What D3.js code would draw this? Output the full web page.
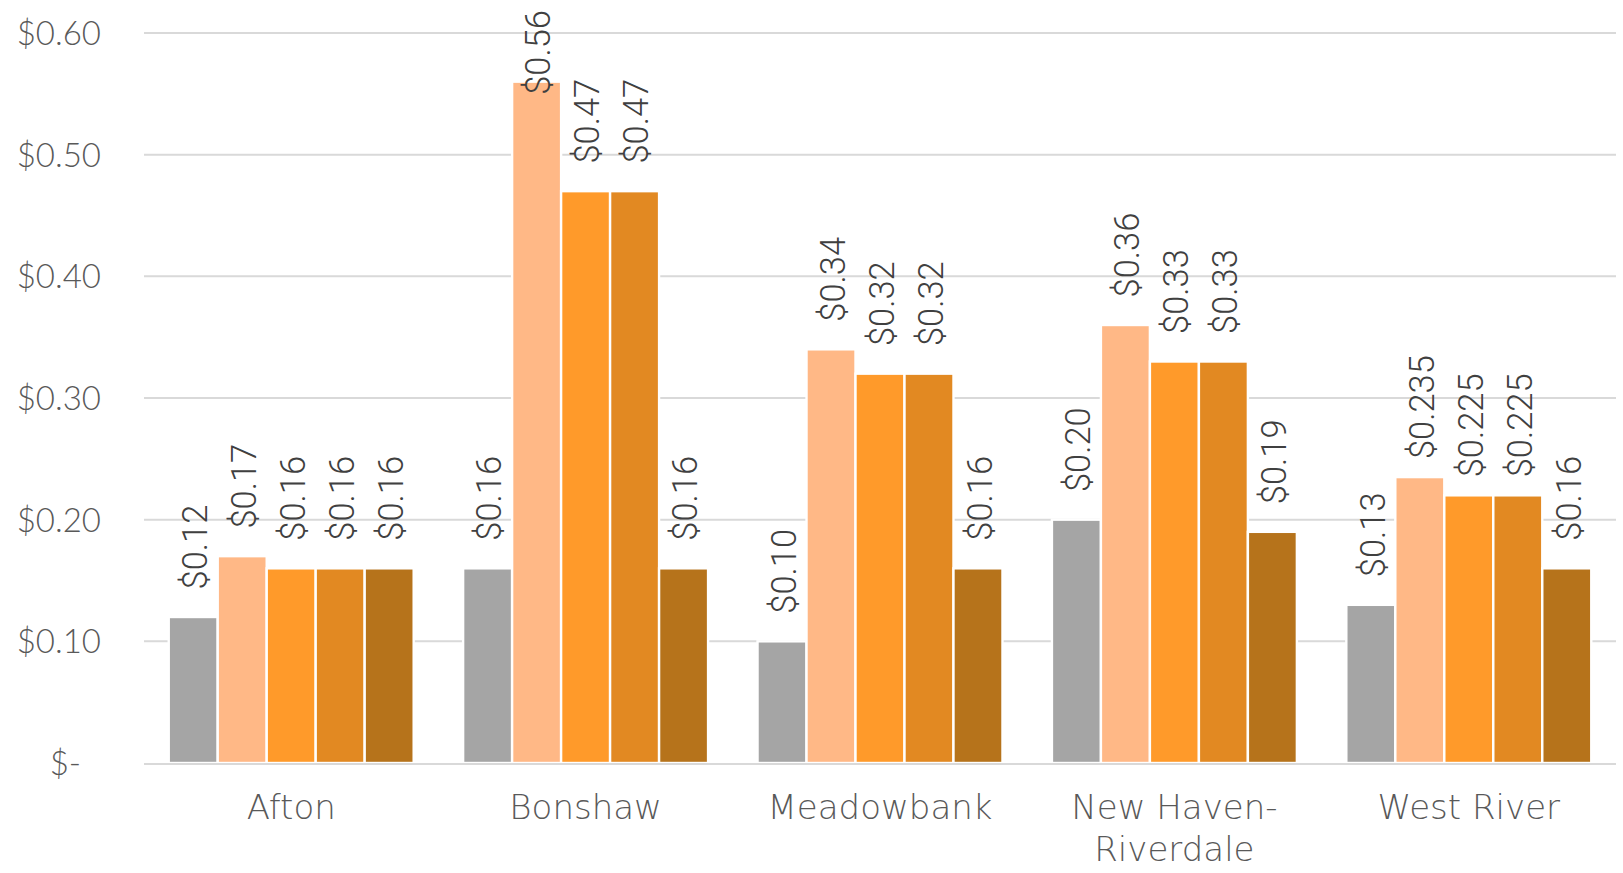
<!DOCTYPE html>
<html>
<head>
<meta charset="utf-8">
<script src="https://cdn.jsdelivr.net/npm/d3@7"></script>
<style>
    body { margin: 0; background: #fff; }
    svg { display: block; }
</style>
</head>
<body>
<div id="chart"></div>
<script>
'use strict';

const categories = ['Afton', 'Bonshaw', 'Meadowbank', 'New Haven-Riverdale', 'West River'];
const seriesNames = ['s1', 's2', 's3', 's4', 's5'];
const s1 = [0.12, 0.16, 0.10, 0.20, 0.13];
const s2 = [0.17, 0.56, 0.34, 0.36, 0.235];
const s3 = [0.16, 0.47, 0.32, 0.33, 0.22];
const s4 = [0.16, 0.47, 0.32, 0.33, 0.22];
const s5 = [0.16, 0.16, 0.16, 0.19, 0.16];
const seriesColors = ['#a5a5a5', '#ffb886', '#ff9a2a', '#e28922', '#b6731b'];
// labels typed by hand in the source chart
const labelOverrides = [
    {series: 's3', category: 'West River', text: '$0.225'},
    {series: 's4', category: 'West River', text: '$0.225'}
];
const yTicks = [0, 0.1, 0.2, 0.3, 0.4, 0.5, 0.6];

const W = 1623, H = 873;
const plot = {left: 144, right: 1616, top: 33, bottom: 763};

const allSeries = [s1, s2, s3, s4, s5];
const rows = [];
categories.forEach((c, i) => {
    seriesNames.forEach((s, j) => rows.push({category: c, series: s, value: allSeries[j][i]}));
});

const x = d3.scaleBand().domain(categories).range([plot.left, plot.right])
    .paddingInner(0.168).paddingOuter(0.084);
const xs = d3.scaleBand().domain(seriesNames).range([0, x.bandwidth()]);
const y = d3.scaleLinear().domain([0, 0.6]).range([plot.bottom, plot.top]);
const color = d3.scaleOrdinal().domain(seriesNames).range(seriesColors);

const fmtValue = v => Math.round(v * 1000) % 10 === 0 ? d3.format('$.2f')(v) : d3.format('$.3f')(v);
const fmtTick = v => v === 0 ? '$-' : d3.format('$.2f')(v);

const svg = d3.select('#chart').append('svg').attr('width', W).attr('height', H);

// gridlines
svg.append('g').selectAll('line').data(yTicks.filter(t => t > 0)).join('line')
    .attr('x1', plot.left).attr('x2', plot.right)
    .attr('y1', d => y(d)).attr('y2', d => y(d))
    .attr('stroke', '#d9d9d9').attr('stroke-width', 2);

// y labels
svg.append('g').selectAll('text').data(yTicks).join('text')
    .attr('x', d => d === 0 ? 81 : 101)
    .attr('y', d => y(d))
    .attr('dy', '0.36em')
    .attr('text-anchor', 'end')
    .attr('font-family', 'Lato, "DejaVu Sans", sans-serif')
    .attr('font-weight', 300)
    .attr('font-size', 33)
    .attr('fill', '#595959')
    .text(fmtTick);

// bars
svg.append('g').selectAll('rect').data(rows).join('rect')
    .attr('x', d => x(d.category) + xs(d.series))
    .attr('y', d => y(d.value))
    .attr('width', xs.bandwidth())
    .attr('height', d => y(0) - y(d.value))
    .attr('fill', d => color(d.series))
    .attr('stroke', '#fff')
    .attr('stroke-width', 2.4);

// baseline
svg.append('line')
    .attr('x1', plot.left).attr('x2', plot.right)
    .attr('y1', y(0) + 1).attr('y2', y(0) + 1)
    .attr('stroke', '#d9d9d9').attr('stroke-width', 2);

// value labels, rotated
const labelText = d => {
    const o = labelOverrides.find(l => l.series === d.series && l.category === d.category);
    return o ? o.text : fmtValue(d.value);
};
const labels = svg.append('g').selectAll('text').data(rows).join('text')
    .attr('text-anchor', 'middle')
    .attr('dy', '0.4em')
    .attr('font-family', 'Roboto, "Liberation Sans", sans-serif')
    .attr('font-weight', 300)
    .attr('font-size', 34.5)
    .attr('fill', '#404040')
    .text(labelText);
labels.each(function (d) {
    const len = this.getComputedTextLength();
    const cx = x(d.category) + xs(d.series) + xs.bandwidth() / 2;
    const cy = Math.max(y(d.value) - 70, 10 + len / 2);
    d3.select(this).attr('transform', `translate(${cx},${cy}) rotate(-90)`);
});

// category labels
const cat = svg.append('g').selectAll('text').data(categories).join('text')
    .attr('text-anchor', 'middle')
    .attr('font-family', '"DejaVu Sans", sans-serif')
    .attr('font-weight', 200)
    .attr('font-size', 34)
    .attr('fill', '#595959');
cat.selectAll('tspan').data(d => d.split(/(?<=-)/).map(t => ({cat: d, t}))).join('tspan')
    .attr('x', d => x(d.cat) + x.bandwidth() / 2)
    .attr('y', (d, i) => 819 + i * 42)
    .text(d => d.t);
</script>
</body>
</html>
